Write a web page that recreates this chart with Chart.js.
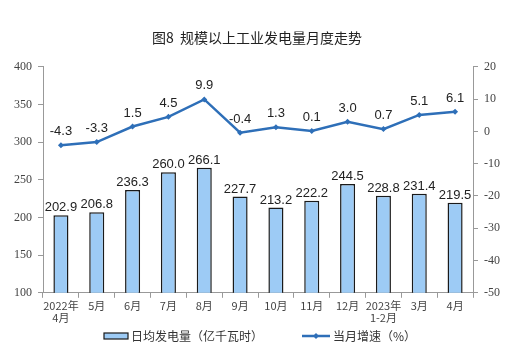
<!DOCTYPE html>
<html>
<head>
<meta charset="utf-8">
<script src="https://cdn.jsdelivr.net/npm/chart.js@4/dist/chart.umd.min.js"></script>
<style>
  html, body { margin: 0; padding: 0; background: #fff; }
  #wrap { width: 515px; height: 362px; position: relative; }
</style>
</head>
<body>
<div id="wrap"><canvas id="myChart" width="515" height="362"></canvas></div>
<script>
const labels = [
	['2022年', '4月'], '5月', '6月', '7月', '8月', '9月',
	'10月', '11月', '12月', ['2023年', '1-2月'], '3月', '4月'
];
const dailyOutput = [202.9, 206.8, 236.3, 260.0, 266.1, 227.7, 213.2, 222.2, 244.5, 228.8, 231.4, 219.5];
const growthRate = [-4.3, -3.3, 1.5, 4.5, 9.9, -0.4, 1.3, 0.1, 3.0, 0.7, 5.1, 6.1];
const leftTicks = [100, 150, 200, 250, 300, 350, 400];
const rightTicks = [-50, -40, -30, -20, -10, 0, 10, 20];

const cjk = '"Noto Sans CJK SC", "Liberation Sans", sans-serif';
const serif = '"Liberation Serif", "DejaVu Serif", serif';
const barFill = '#9DCBF5';
const lineColor = '#2E6FB8';

// draws the value labels above bars and points
const valueLabels = {
	id: 'valueLabels',
	afterDatasetsDraw(chart) {
		const ctx = chart.ctx;
		ctx.save();
		ctx.font = '13px "Liberation Sans", Arial, sans-serif';
		ctx.fillStyle = '#222';
		ctx.textAlign = 'center';
		ctx.textBaseline = 'bottom';
		chart.data.datasets.forEach((ds, i) => {
			const meta = chart.getDatasetMeta(i);
			meta.data.forEach((el, j) => {
				const v = ds.data[j].toFixed(1);
				const off = ds.type === 'line' ? 7 : 1;
				ctx.fillText(v, el.x, el.y - off);
			});
		});
		ctx.restore();
	}
};

// legend under the chart, bar first then line
const bottomLegend = {
	id: 'bottomLegend',
	afterDraw(chart) {
		const ctx = chart.ctx;
		const y = 336;
		ctx.save();
		ctx.font = '12px ' + cjk;
		ctx.fillStyle = '#333';
		ctx.textBaseline = 'middle';
		// bar item
		ctx.fillStyle = barFill;
		ctx.fillRect(104, y - 3, 24, 6);
		ctx.strokeStyle = '#1a1a1a';
		ctx.lineWidth = 1.2;
		ctx.strokeRect(104, y - 3, 24, 6);
		ctx.fillStyle = '#333';
		ctx.fillText(chart.data.datasets[1].label, 131, y);
		// line item
		ctx.strokeStyle = lineColor;
		ctx.lineWidth = 2.5;
		ctx.beginPath();
		ctx.moveTo(302, y);
		ctx.lineTo(330, y);
		ctx.stroke();
		ctx.fillStyle = lineColor;
		ctx.beginPath();
		ctx.moveTo(316, y - 3);
		ctx.lineTo(319, y);
		ctx.lineTo(316, y + 3);
		ctx.lineTo(313, y);
		ctx.closePath();
		ctx.fill();
		ctx.fillStyle = '#333';
		ctx.fillText(chart.data.datasets[0].label, 333, y);
		ctx.restore();
	}
};

window.onload = () => {
	const ctx = document.getElementById('myChart').getContext('2d');
	new Chart(ctx, {
		data: {
			labels: labels,
			datasets: [
				{
					type: 'line',
					label: '当月增速（%）',
					data: growthRate,
					yAxisID: 'y2',
					borderColor: lineColor,
					backgroundColor: lineColor,
					borderWidth: 2.5,
					pointStyle: 'rectRot',
					pointRadius: 3,
					pointBorderWidth: 0,
					tension: 0,
					order: 0
				},
				{
					type: 'bar',
					label: '日均发电量（亿千瓦时）',
					data: dailyOutput,
					yAxisID: 'y',
					backgroundColor: barFill,
					borderColor: '#1a1a1a',
					borderWidth: 1.5,
					categoryPercentage: 1,
					barPercentage: 0.42,
					order: 1
				}
			]
		},
		options: {
			responsive: false,
			animation: false,
			layout: { padding: { left: 8, right: 9, top: 0, bottom: 36 } },
			plugins: {
				title: {
					display: true,
					text: '图8  规模以上工业发电量月度走势',
					font: { family: cjk, size: 14, weight: 'normal' },
					color: '#222',
					padding: { top: 29, bottom: 21 }
				},
				legend: { display: false },
				tooltip: { enabled: false }
			},
			scales: {
				x: {
					grid: {
						display: true,
						drawOnChartArea: false,
						offset: true,
						tickLength: 5,
						color: '#999'
					},
					border: { color: '#999' },
					ticks: {
						font: { family: cjk, size: 11, lineHeight: 1.1 },
						color: '#444',
						maxRotation: 0,
						autoSkip: false,
						padding: 2
					}
				},
				y: {
					position: 'left',
					min: 100,
					max: 400,
					afterBuildTicks: axis => { axis.ticks = leftTicks.map(v => ({ value: v })); },
					grid: { drawOnChartArea: false, tickLength: 5, color: '#999' },
					border: { color: '#999' },
					ticks: { font: { family: serif, size: 12 }, color: '#444', padding: 6 }
				},
				y2: {
					position: 'right',
					min: -50,
					max: 20,
					afterBuildTicks: axis => { axis.ticks = rightTicks.map(v => ({ value: v })); },
					grid: { drawOnChartArea: false, tickLength: 5, color: '#999' },
					border: { color: '#999' },
					ticks: { font: { family: serif, size: 12 }, color: '#444', padding: 6 }
				}
			}
		},
		plugins: [valueLabels, bottomLegend]
	});
};
</script>
</body>
</html>
